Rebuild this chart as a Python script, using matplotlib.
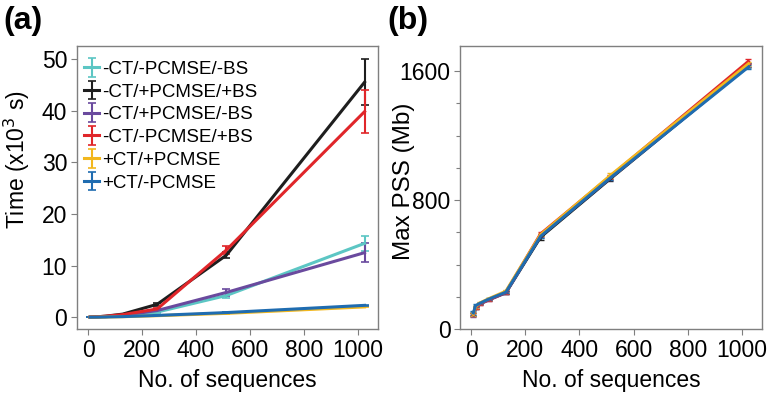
import matplotlib
matplotlib.use("Agg")
import matplotlib.pyplot as plt
import numpy as np

plt.rcParams['font.family'] = ['Liberation Sans', 'DejaVu Sans']

n_seq = [8, 16, 32, 64, 128, 256, 512, 1024]
labels = ['-CT/-PCMSE/-BS', '-CT/+PCMSE/+BS', '-CT/+PCMSE/-BS',
          '-CT/-PCMSE/+BS', '+CT/+PCMSE', '+CT/-PCMSE']
colors = ['#5cc6c4', '#1e1e1e', '#6a4a9e', '#e0262a', '#f2b71e', '#1f6cb0']

# Panel (a): time (x10^3 s)
time_vals = [
    [0.01, 0.02, 0.05, 0.10, 0.30, 1.0, 4.2, 14.3],
    [0.02, 0.04, 0.08, 0.20, 0.60, 2.5, 12.0, 45.5],
    [0.01, 0.02, 0.05, 0.10, 0.35, 1.3, 4.8, 12.5],
    [0.02, 0.04, 0.08, 0.20, 0.50, 1.6, 13.0, 39.8],
    [0.005, 0.01, 0.02, 0.05, 0.10, 0.30, 0.75, 2.0],
    [0.005, 0.01, 0.02, 0.05, 0.12, 0.35, 0.90, 2.3],
]
time_err = [
    [0, 0, 0, 0, 0, 0.2, 0.5, 1.5],
    [0, 0, 0, 0, 0, 0.3, 0.6, 4.5],
    [0, 0, 0, 0, 0, 0.2, 0.6, 1.8],
    [0, 0, 0, 0, 0, 0.2, 0.8, 4.2],
    [0, 0, 0, 0, 0, 0.02, 0.05, 0.1],
    [0, 0, 0, 0, 0, 0.02, 0.05, 0.1],
]

# Panel (b): max PSS (Mb)
pss_vals = [
    [95, 140, 160, 185, 228, 575, 940, 1630],
    [90, 135, 158, 183, 226, 570, 930, 1635],
    [88, 130, 155, 180, 225, 580, 935, 1635],
    [90, 132, 157, 182, 228, 590, 945, 1660],
    [92, 138, 162, 188, 235, 585, 950, 1645],
    [100, 145, 160, 185, 229, 575, 935, 1625],
]
pss_err = [
    [10, 8, 5, 5, 8, 10, 12, 12],
    [10, 8, 5, 5, 8, 15, 12, 12],
    [10, 8, 5, 5, 8, 10, 12, 12],
    [10, 8, 5, 5, 8, 12, 12, 15],
    [10, 8, 5, 5, 8, 10, 15, 12],
    [10, 8, 5, 5, 8, 10, 12, 12],
]

fig = plt.figure(figsize=(7.72, 3.97), dpi=100)
ax1 = fig.add_axes([0.0997, 0.171, 0.39, 0.713])
ax2 = fig.add_axes([0.596, 0.171, 0.391, 0.713])

spine_col = '#7f7f7f'
for ax in (ax1, ax2):
    for s in ax.spines.values():
        s.set_color(spine_col)
        s.set_linewidth(1.0)
    ax.tick_params(axis='both', direction='out', color=spine_col,
                   labelsize=16.5, length=4, width=0.8, pad=3)
    ax.set_xticks([0, 200, 400, 600, 800, 1000])
    ax.set_xlim(-41, 1074)
    ax.set_xlabel('No. of sequences', fontsize=16.5, labelpad=5)

for vals, err, c, lab in zip(time_vals, time_err, colors, labels):
    ax1.errorbar(n_seq, vals, yerr=err, color=c, lw=2.2, capsize=3,
                 elinewidth=1.5, capthick=1.2, label=lab)
ax1.set_ylim(-2.3, 52.5)
ax1.set_yticks([0, 10, 20, 30, 40, 50])
ax1.set_ylabel('Time (x10$^3$ s)', fontsize=16.5)
ax1.yaxis.set_label_coords(-0.15, 0.6)
leg = ax1.legend(loc='upper left', fontsize=13.5, frameon=False,
                 handlelength=0.8, handletextpad=0.15, labelspacing=0.3,
                 borderaxespad=0.0, bbox_to_anchor=(0.0, 0.975))

for vals, err, c, lab in zip(pss_vals, pss_err, colors, labels):
    ax2.errorbar(n_seq, vals, yerr=err, color=c, lw=2.2, capsize=2,
                 elinewidth=1.2, capthick=1.0, label=lab)
ax2.set_ylim(0, 1755)
ax2.set_yticks([0, 800, 1600])
ax2.set_yticks([200, 400, 600, 1000, 1200, 1400], minor=True)
ax2.tick_params(axis='y', which='minor', direction='out', color=spine_col,
                length=3, width=0.8)
ax2.set_ylabel('Max PSS (Mb)', fontsize=17.5)
ax2.yaxis.set_label_coords(-0.149, 0.523)

fig.text(0.005, 0.985, '(a)', fontsize=23, fontweight='bold', va='top', ha='left')
fig.text(0.502, 0.985, '(b)', fontsize=23, fontweight='bold', va='top', ha='left')

fig.savefig('out.png', dpi=100)
